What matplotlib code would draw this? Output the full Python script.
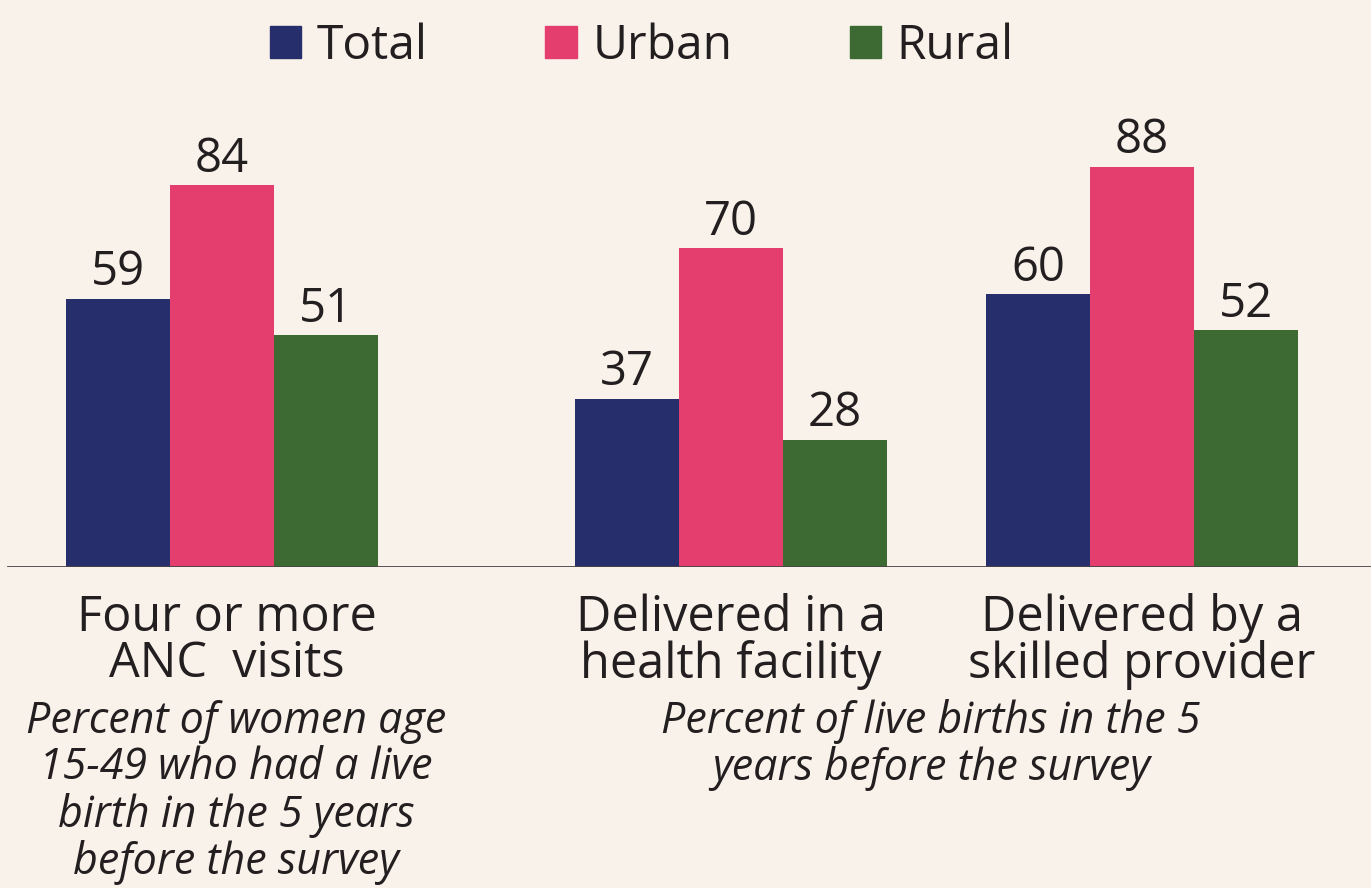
import numpy as np
import matplotlib.pyplot as plt
from matplotlib.patches import Patch

# data
categories = ['Four or more\nANC  visits',
              'Delivered in a\nhealth facility',
              'Delivered by a\nskilled provider']
series = ['Total', 'Urban', 'Rural']
total = [59, 37, 60]
urban = [84, 70, 88]
rural = [51, 28, 52]
notes = ['Percent of women age\n15-49 who had a live\nbirth in the 5 years\nbefore the survey',
         'Percent of live births in the 5\nyears before the survey']

colors = ['#262f6b', '#e33e6e', '#3c6a32']
bg = '#f9f2ea'
ink = '#231f20'

plt.rcParams['font.family'] = ['Open Sans', 'DejaVu Sans']

fig = plt.figure(figsize=(13.71, 8.88), dpi=100, facecolor=bg)
# x in pixel-like units so bar spacing can follow the original
ax = fig.add_axes([0, (888 - 567) / 888, 1, 567 / 888])
ax.set_facecolor(bg)
ax.set_xlim(0, 1371)
ax.set_ylim(0, 124.6)

centers = np.array([222, 731, 1142])
w = 104
for i, vals in enumerate([total, urban, rural]):
    xs = centers + (i - 1) * w
    ax.bar(xs, vals, width=w, color=colors[i], label=series[i])
    for x, v in zip(xs, vals):
        ax.text(x, v + 2.9, str(v), ha='center', va='baseline', fontsize=34, color=ink)

for s in ax.spines.values():
    s.set_visible(False)
ax.axhline(0, xmin=8 / 1371, xmax=1, color='#4a4444', lw=2, zorder=5)
ax.set_yticks([])
ax.set_xticks(centers + np.array([5, 0, 0]))
ax.set_xticklabels(categories, fontsize=35, color=ink, linespacing=0.92)
ax.tick_params(axis='x', length=0, pad=19)

handles = [Patch(color=c, label=s) for c, s in zip(colors, series)]
fig.legend(handles=handles, loc='center', bbox_to_anchor=(642 / 1371, 1 - 46 / 888),
           ncol=3, frameon=False, fontsize=34.5, handlelength=0.65, handleheight=0.65,
           handletextpad=0.33, columnspacing=2.45, labelcolor=ink)

fig.text(236 / 1371, 1 - 699 / 888, notes[0], ha='center', va='top', fontsize=31,
         style='italic', color=ink, linespacing=1.07)
fig.text(931 / 1371, 1 - 699 / 888, notes[1], ha='center', va='top', fontsize=31,
         style='italic', color=ink, linespacing=1.07)

fig.savefig('out.png', dpi=100, facecolor=bg)
